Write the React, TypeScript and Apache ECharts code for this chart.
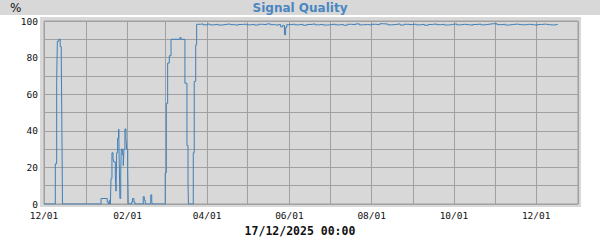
import React, { useEffect, useRef } from "react";
import * as echarts from "echarts";

// Time since 2024-12-01 (days) at which the signal quality changes, and the new value (%)
const startDate = "2024-12-01";
const endDate = "2026-01-01";
const dayOffsets: number[] = [
  0, 8.4, 9.4, 9.9, 11.1, 12.0, 12.8, 13.3, 13.7,
  42.3, 46.9, 47.7, 48.4, 49.2, 49.7, 50.4, 51.2, 51.7, 52.9, 53.4, 53.9, 54.6, 55.4, 55.8,
  56.3, 56.9, 57.3, 58.1, 58.8, 59.3, 60.0, 60.8, 61.3, 62.1, 62.5,
  64.9, 65.6, 66.7, 67.5, 73.6, 74.4, 75.1, 79.2, 79.9, 80.4,
  89.9, 90.7, 91.7, 92.9, 94.2, 100.8, 101.6, 104.5, 106.0, 106.8, 107.1,
  110.7, 111.4, 112.5, 113.2,
  116, 118, 121, 123, 126, 129, 132, 135, 138, 141, 144, 147, 150, 153, 156, 159, 162, 165,
  168, 171, 174, 175.5, 177, 178.3, 179.2, 180, 183, 186, 189, 192, 195, 198, 201, 204, 207,
  210, 213, 216, 219, 222, 225, 228, 231, 234, 237, 240, 243, 246, 249, 252, 255, 258, 261,
  264, 267, 270, 273, 276, 279, 282, 285, 288, 291, 294, 297, 300, 303, 306, 309, 312, 315,
  318, 321, 324, 327, 330, 333, 336, 339, 342, 345, 348, 351, 354, 357, 360, 363, 366, 369,
  372, 375, 378, 381,
];
const quality: number[] = [
  0, 22, 67, 89, 90, 86, 80, 39, 0,
  3, 1, 0, 2, 0, 14, 28, 25, 23, 16, 7, 28, 36, 41, 22,
  3, 17, 30, 27, 21, 30, 41, 36, 30, 18, 0,
  1, 3, 1, 0, 4, 2, 0, 5, 1, 0,
  17, 55, 77, 81, 90, 91, 90, 66, 32, 11, 0,
  28, 67, 87, 98.2,
  98.4, 97.9, 98.3, 97.9, 98.2, 97.8, 98.1, 98.4, 98.0, 97.7, 98.1, 98.3, 97.9, 98.2, 97.8, 98.2, 98.0, 98.4,
  98.0, 97.7, 98.1, 96.8, 97.6, 92.5, 96.5, 98.0, 98.3, 97.9, 98.2, 97.7, 98.1, 98.4, 97.9, 98.2, 97.8,
  98.0, 98.3, 97.9, 98.1, 97.7, 98.2, 98.0, 98.4, 97.9, 98.1, 97.8, 98.2, 98.0, 98.5, 98.3, 97.9, 98.1, 98.4,
  97.8, 98.2, 98.0, 98.3, 97.9, 98.2, 97.7, 98.1, 98.4, 98.0, 98.2, 97.8, 98.1, 98.4, 97.9, 98.2, 98.0, 97.7,
  98.1, 98.3, 97.9, 98.2, 98.5, 98.5, 98.0, 98.2, 97.8, 98.1, 98.3, 98.0, 97.9, 98.2, 98.0, 97.7, 98.1, 98.3,
  98.0, 97.8, 98.1, 98.1,
];
// Month starts used for vertical grid lines; every second one is labelled
const monthTicks: string[] = [
  "2024-12-01", "2025-01-01", "2025-02-01", "2025-03-01", "2025-04-01", "2025-05-01", "2025-06-01",
  "2025-07-01", "2025-08-01", "2025-09-01", "2025-10-01", "2025-11-01", "2025-12-01", "2026-01-01",
];
const monthLabels: string[] = [
  "2024-12-01", "2025-02-01", "2025-04-01", "2025-06-01", "2025-08-01", "2025-10-01", "2025-12-01",
];
const title = "Signal Quality";
const unit = "%";
const xTitle = "17/12/2025 00:00";

const DAY = 86400000;
const toTs = (s: string) => {
  const [y, m, d] = s.split("-").map(Number);
  return Date.UTC(y, m - 1, d);
};

export default function App() {
  const ref = useRef<HTMLDivElement>(null);
  useEffect(() => {
    if (!ref.current) return;
    const chart = echarts.init(ref.current, null, { renderer: "svg" });
    const t0 = toTs(startDate);
    const data = dayOffsets.map((d, i) => [t0 + d * DAY, quality[i]]);
    const bg = "#d8d8d8";
    const gridColor = "#a0a0a0";
    const lineColor = "#3f7fb8";
    const mono = "'DejaVu Sans Mono', monospace";
    chart.setOption({
      animation: false,
      backgroundColor: "#ffffff",
      graphic: [
        { type: "rect", z: -10, shape: { x: 0, y: 0, width: 600, height: 15 }, style: { fill: bg } },
        { type: "rect", z: -10, shape: { x: 40, y: 17, width: 541, height: 190 }, style: { fill: bg } },
        {
          type: "text", x: 300, y: 7.5,
          style: { text: title, fill: "#4a86c0", font: "bold 12px 'DejaVu Sans', sans-serif", align: "center", verticalAlign: "middle" },
        },
        {
          type: "text", x: 10, y: 8,
          style: { text: unit, fill: "#111", font: "12px 'DejaVu Sans', sans-serif", align: "left", verticalAlign: "middle" },
        },
        {
          type: "text", x: 300, y: 231,
          style: { text: xTitle, fill: "#111", font: "bold 11.5px 'DejaVu Sans Mono', monospace", align: "center", verticalAlign: "middle" },
        },
      ],
      grid: {
        left: 44, right: 22, top: 21, bottom: 36,
        show: true, backgroundColor: bg, borderColor: gridColor, borderWidth: 1,
      },
      xAxis: {
        type: "value",
        min: toTs(startDate),
        max: toTs(endDate),
        axisLine: { show: false },
        axisTick: { show: false, customValues: monthTicks.map(toTs) },
        splitLine: { show: true, lineStyle: { color: gridColor, width: 1 } },
        axisLabel: {
          customValues: monthLabels.map(toTs),
          color: "#111",
          fontFamily: mono,
          fontSize: 9.5,
          margin: 6,
          hideOverlap: false,
          formatter: (v: number) => {
            const dt = new Date(v);
            const mm = String(dt.getUTCMonth() + 1).padStart(2, "0");
            const dd = String(dt.getUTCDate()).padStart(2, "0");
            return `${mm}/${dd}`;
          },
        },
      },
      yAxis: {
        type: "value",
        min: 0,
        max: 100,
        interval: 10,
        axisLine: { show: false },
        axisTick: { show: false },
        splitLine: { show: true, lineStyle: { color: gridColor, width: 1 } },
        axisLabel: {
          color: "#111",
          fontFamily: mono,
          fontSize: 9.5,
          margin: 6,
          formatter: (v: number) => (v % 20 === 0 ? String(v) : ""),
        },
      },
      series: [
        {
          type: "line",
          step: "end",
          data,
          showSymbol: false,
          symbol: "none",
          lineStyle: { color: lineColor, width: 1 },
        },
      ],
    });
    return () => chart.dispose();
  }, []);
  return <div ref={ref} style={{ position: "absolute", left: 0, top: 0, width: 600, height: 240 }} />;
}
